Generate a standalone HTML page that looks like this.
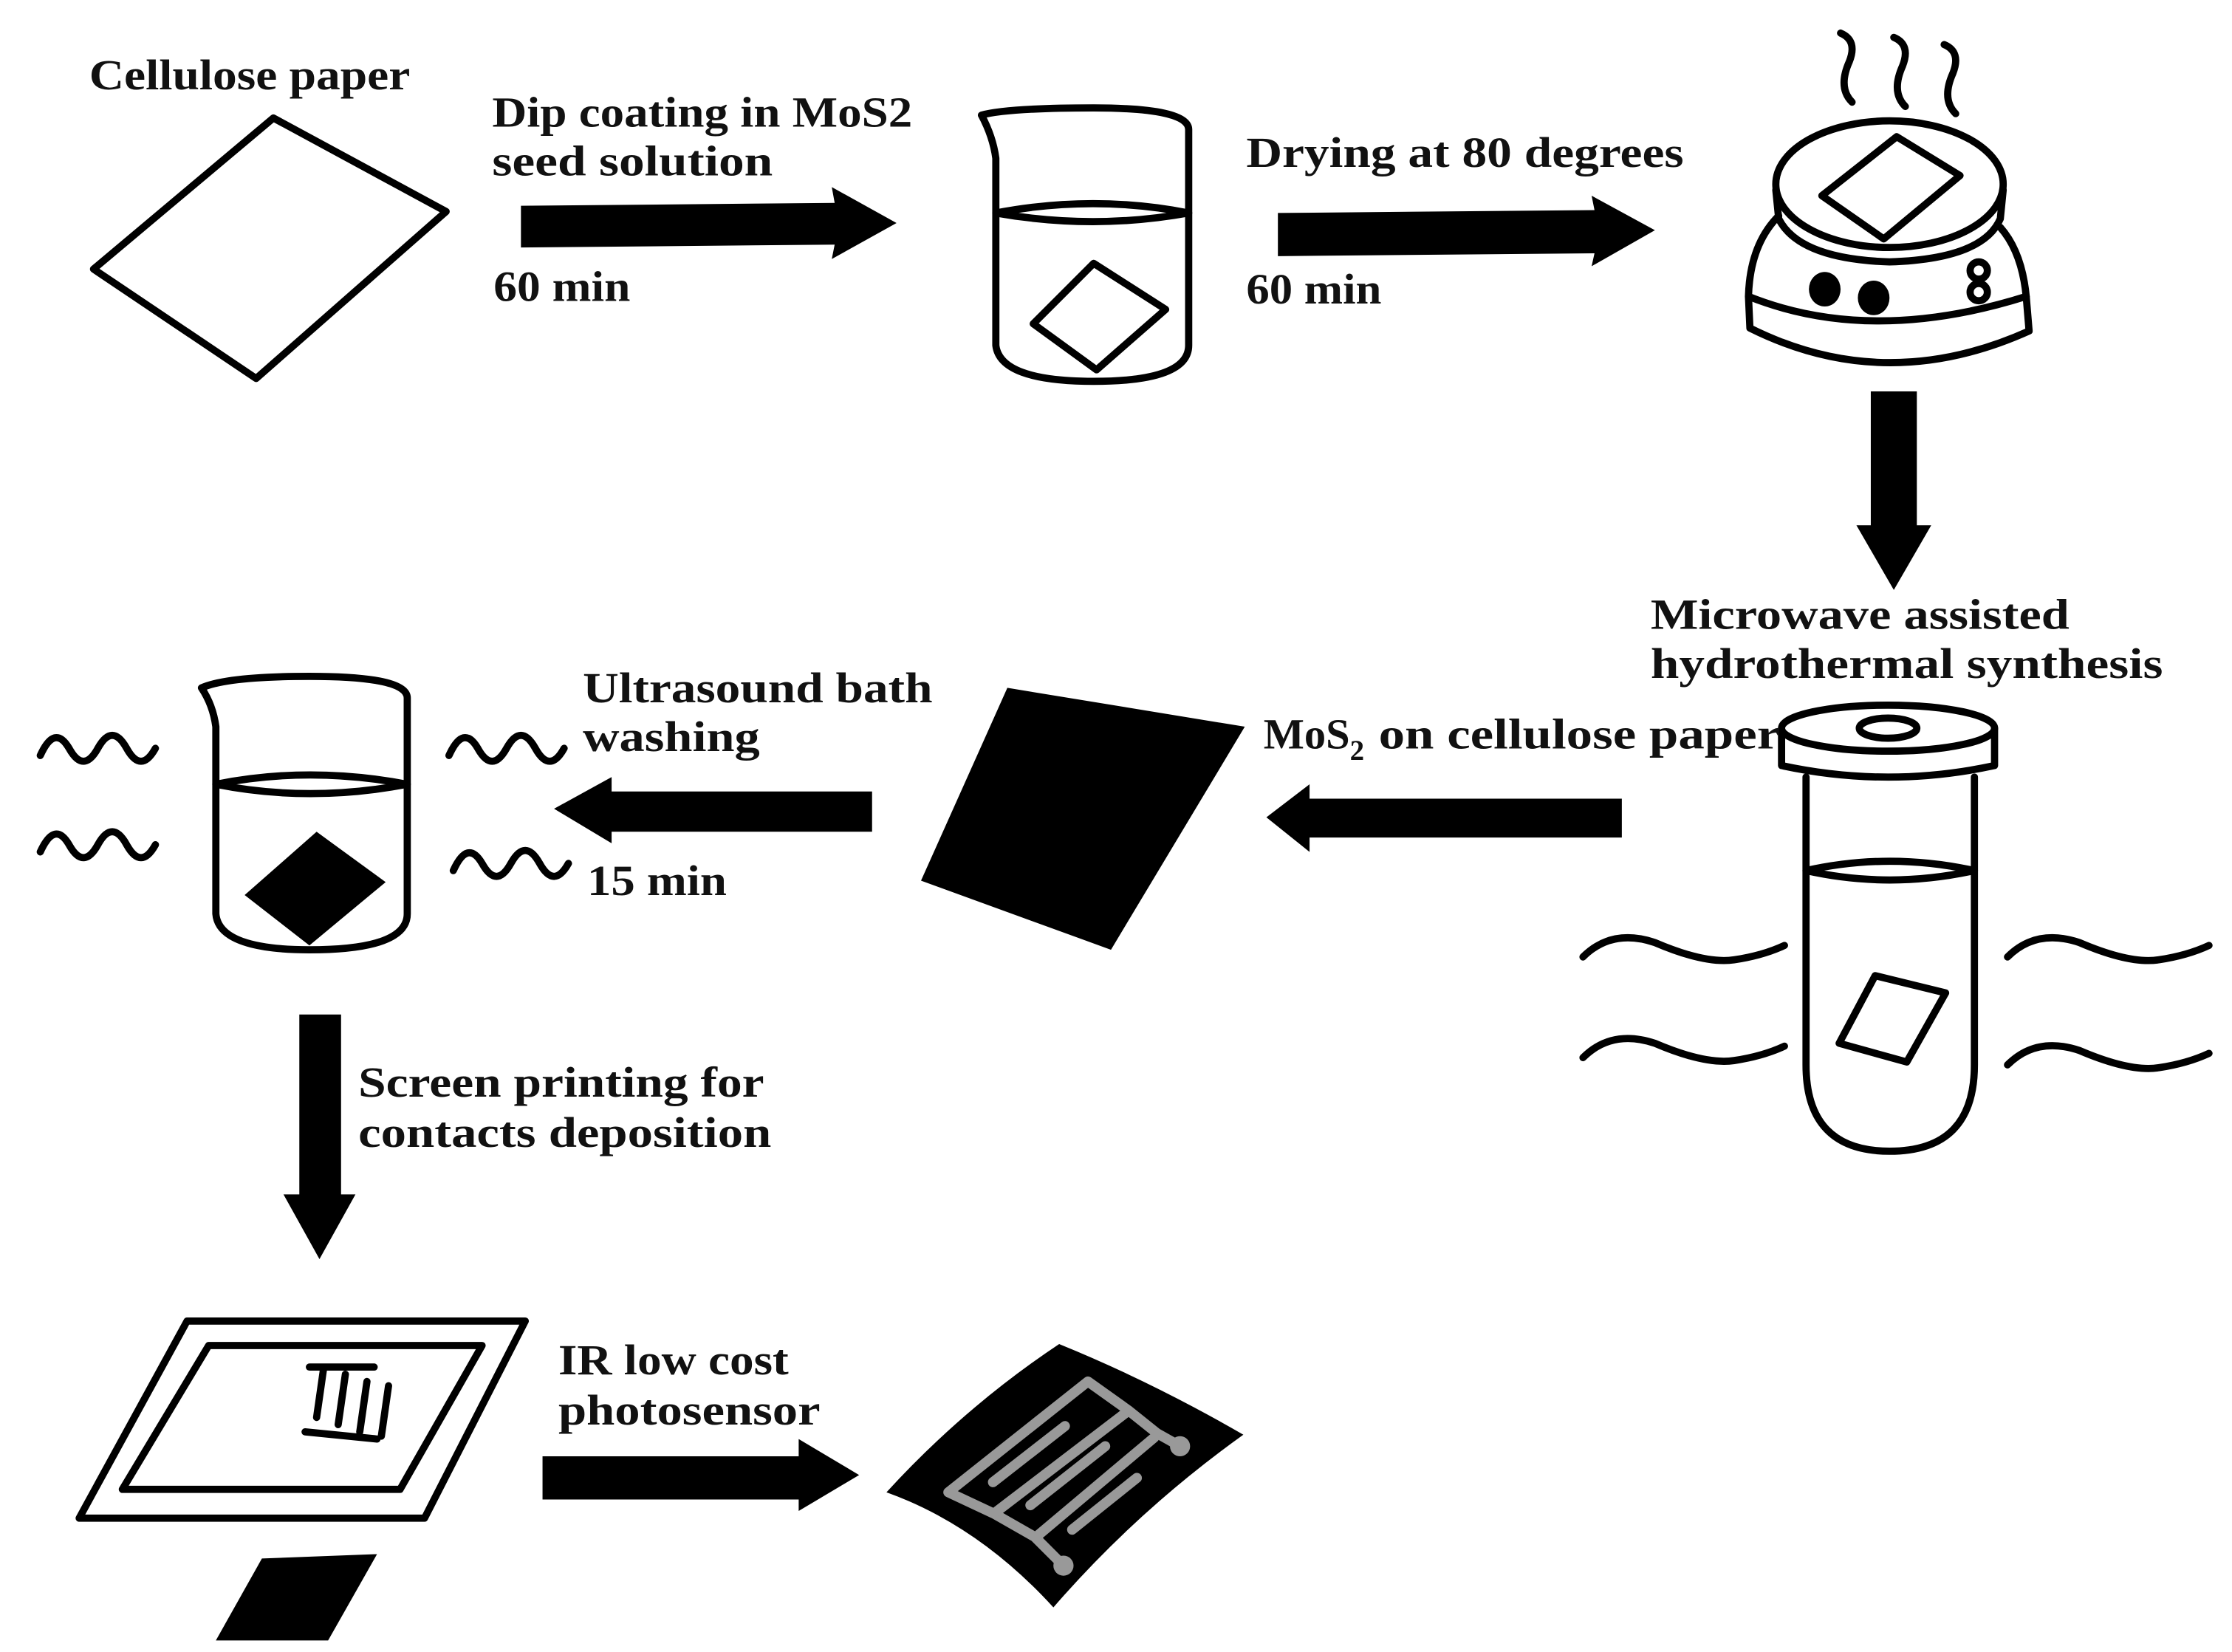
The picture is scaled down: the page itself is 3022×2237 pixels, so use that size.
<!DOCTYPE html>
<html><head><meta charset="utf-8"><style>
html,body{margin:0;padding:0;background:#fff;}
svg{display:block;}
text{font-family:"Liberation Serif",serif;font-weight:bold;font-size:30px;fill:#111;}
</style></head><body>
<svg width="3022" height="2237" viewBox="0 0 1551 1148" preserveAspectRatio="none" xmlns="http://www.w3.org/2000/svg">
<g fill="none" stroke="#000" stroke-width="5" stroke-linejoin="round" stroke-linecap="round">
<polygon points="65,187 190,82 310,147 178,263"/>
<path d="M682,80 Q690,95 692,110 L692,240 Q695,265 760,265 Q826,265 826,240 L826,90 Q826,75 760,75 Q700,75 682,80 Z"/>
<path d="M692,148 Q760,135 826,148 M692,148 Q760,160 826,148"/>
<polygon points="718,225 760,183 810,215 762,257"/>
<path d="M1279,23 q12,5 6,20 q-8,18 2,28 M1316,26 q12,5 6,20 q-8,18 2,28 M1351,31 q12,5 6,20 q-8,18 2,28"/>
<ellipse cx="1313" cy="128" rx="79" ry="44"/>
<path d="M1234,132 L1236,152 Q1250,180 1313,182 Q1378,180 1390,152 L1392,132"/>
<polygon points="1266,136 1318,95 1362,122 1309,166"/>
<path d="M1236,150 Q1216,170 1215,206 Q1300,240 1408,206 Q1405,175 1390,158"/>
<path d="M1215,206 L1216,228 Q1310,275 1410,230 L1408,206"/>
<circle cx="1375" cy="188" r="6"/><circle cx="1375" cy="203" r="6"/>
<ellipse cx="1312" cy="506" rx="74" ry="16"/>
<path d="M1238,506 L1238,532 Q1312,548 1386,532 L1386,506"/>
<ellipse cx="1312" cy="506" rx="20" ry="7"/>
<path d="M1255,540 L1255,740 Q1255,800 1313,800 Q1372,800 1372,740 L1372,540"/>
<path d="M1255,605 Q1313,592 1372,605 M1255,605 Q1313,618 1372,605"/>
<polygon points="1278,725 1303,678 1352,690 1325,738"/>
<path d="M1100,665 q20,-20 50,-10 q35,15 55,12 q20,-3 35,-10 M1100,735 q20,-20 50,-10 q35,15 55,12 q20,-3 35,-10"/>
<path d="M1395,665 q20,-20 50,-10 q35,15 55,12 q20,-3 35,-10 M1395,740 q20,-20 50,-10 q35,15 55,12 q20,-3 35,-10"/>
<path d="M140,478 Q148,490 150,505 L150,635 Q152,660 215,660 Q283,660 283,635 L283,485 Q283,470 215,470 Q158,470 140,478 Z"/>
<path d="M150,545 Q215,532 283,545 M150,545 Q215,558 283,545"/>
<path d="M28,525 q10,-22 20,-5 q10,18 20,0 q10,-18 20,0 q10,18 20,0 M28,592 q10,-22 20,-5 q10,18 20,0 q10,-18 20,0 q10,18 20,0"/>
<path d="M312,525 q10,-22 20,-5 q10,18 20,0 q10,-18 20,0 q10,18 20,0 M315,605 q10,-22 20,-5 q10,18 20,0 q10,-18 20,0 q10,18 20,0"/>
<polygon points="55,1055 130,918 365,918 295,1055"/>
<polygon points="85,1035 145,935 335,935 278,1035"/>
<path d="M220,985 L225,950 M235,990 L240,955 M250,995 L255,960 M265,998 L270,963 M212,995 L262,1000 M215,950 L260,950"/>
</g>
<g fill="#000">
<polygon points="170,622 220,578 268,613 215,657"/>
<polygon points="640,612 700,478 865,505 772,660"/>
<polygon points="150,1140 182,1083 262,1080 228,1140"/>
<ellipse cx="1268" cy="201" rx="11" ry="12"/><ellipse cx="1302" cy="207" rx="11" ry="12"/>
<polygon points="362,143 580,141 578,130 623,155 578,180 580,170 362,172"/>
<polygon points="888,148 1108,146 1106,136 1150,160 1106,185 1108,176 888,178"/>
<polygon points="1300,272 1332,272 1332,365 1342,365 1316,410 1290,365 1300,365"/>
<polygon points="1127,555 910,555 910,545 880,568 910,592 910,582 1127,582"/>
<polygon points="606,550 425,550 425,540 385,562 425,586 425,578 606,578"/>
<polygon points="208,705 237,705 237,830 247,830 222,875 197,830 208,830"/>
<polygon points="377,1012 555,1012 555,1000 597,1025 555,1050 555,1042 377,1042"/>
<path d="M616,1037 Q670,978 736,934 Q800,960 864,997 Q790,1050 732,1117 Q680,1060 616,1037 Z"/>
</g>
<g fill="none" stroke="#999" stroke-width="7" stroke-linecap="round" stroke-linejoin="round">
<path d="M739,1088 L719,1068 L691,1052 L659,1037 L756,960 L784,980 L804,996 L820,1005"/>
<path d="M782,982 L693,1050"/>
<path d="M802,999 L720,1068"/>
<path d="M690,1030 L740,991"/>
<path d="M716,1046 L768,1005"/>
<path d="M745,1063 L790,1027"/>
</g>
<circle cx="820" cy="1005" r="7" fill="#999"/><circle cx="739" cy="1088" r="7" fill="#999"/>
<text x="62" y="62" textLength="223" lengthAdjust="spacingAndGlyphs">Cellulose paper</text>
<text x="342" y="88" textLength="292" lengthAdjust="spacingAndGlyphs">Dip coating in MoS2</text>
<text x="342" y="122" textLength="195" lengthAdjust="spacingAndGlyphs">seed solution</text>
<text x="343" y="209" textLength="95" lengthAdjust="spacingAndGlyphs">60 min</text>
<text x="866" y="116" textLength="304" lengthAdjust="spacingAndGlyphs">Drying at 80 degrees</text>
<text x="866" y="211" textLength="94" lengthAdjust="spacingAndGlyphs">60 min</text>
<text x="1147" y="437" textLength="291" lengthAdjust="spacingAndGlyphs">Microwave assisted</text>
<text x="1147" y="471" textLength="356" lengthAdjust="spacingAndGlyphs">hydrothermal synthesis</text>
<text x="878" y="520">MoS<tspan font-size="20" dy="8">2</tspan><tspan dy="-8" x="958" textLength="279" lengthAdjust="spacingAndGlyphs">on cellulose paper</tspan></text>
<text x="405" y="488" textLength="243" lengthAdjust="spacingAndGlyphs">Ultrasound bath</text>
<text x="405" y="522" textLength="123" lengthAdjust="spacingAndGlyphs">washing</text>
<text x="408" y="622" textLength="97" lengthAdjust="spacingAndGlyphs">15 min</text>
<text x="249" y="762" textLength="282" lengthAdjust="spacingAndGlyphs">Screen printing for</text>
<text x="249" y="797" textLength="287" lengthAdjust="spacingAndGlyphs">contacts deposition</text>
<text x="388" y="955" textLength="160" lengthAdjust="spacingAndGlyphs">IR low cost</text>
<text x="388" y="990" textLength="182" lengthAdjust="spacingAndGlyphs">photosensor</text>
</svg>
</body></html>
